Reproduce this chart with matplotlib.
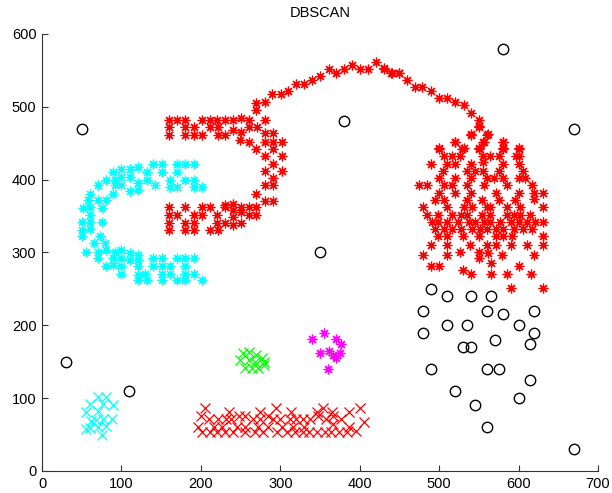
import matplotlib
matplotlib.use("Agg")
import matplotlib.pyplot as plt
import numpy as np

plt.rcParams['font.family'] = ['Liberation Sans', 'DejaVu Sans']

# ---- data ----
noise_x = [580, 50, 380, 670, 350, 30, 110, 490, 510, 540, 565, 480, 560, 580, 620, 510, 535, 600,
           480, 620, 570, 615, 530, 540, 490, 560, 575, 615, 520, 600, 545, 560, 670]
noise_y = [580, 470, 480, 470, 300, 150, 110, 250, 240, 240, 240, 220, 220, 215, 220, 200, 200, 200,
           190, 190, 180, 175, 170, 170, 140, 140, 140, 125, 110, 100, 90, 60, 30]

# cyan asterisk "C"
cyan_s_x = [140, 151, 170, 180, 191, 151, 170, 121, 111, 100, 90, 81, 92, 100, 111, 121, 132, 132, 142,
            161, 180, 191, 161, 170, 191, 201, 92, 100, 111, 121, 90, 71, 60, 58, 71, 81, 52, 60, 75,
            60, 50, 60, 75, 50, 60, 50, 73, 65, 79, 56, 71, 81, 92, 100, 111, 121, 71, 90, 100, 111,
            121, 140, 151, 170, 180, 191, 81, 100, 121, 140, 151, 161, 180, 100, 121, 130, 151, 161,
            180, 191, 121, 132, 151, 170, 180, 201, 90]
cyan_s_y = [421, 421, 421, 421, 421, 411, 411, 418, 414, 414, 411, 400, 400, 404, 404, 396, 411, 400, 393,
            400, 400, 400, 390, 390, 390, 390, 393, 393, 384, 386, 381, 393, 381, 372, 372, 372, 361,
            363, 361, 351, 342, 342, 342, 331, 332, 322, 322, 313, 313, 301, 301, 303, 301, 303, 299,
            297, 292, 292, 292, 290, 290, 292, 292, 292, 292, 292, 281, 281, 281, 281, 281, 281, 281,
            271, 269, 271, 271, 271, 271, 271, 262, 262, 262, 262, 262, 262, 283]

# red asterisk cluster (hook + arc + blob)
red_s_x = [
    # upper bar of hook
    160, 170, 180, 201, 212, 220, 230, 241, 250, 261, 160, 180, 191, 212, 222, 241, 250, 261, 271, 281,
    160, 180, 191, 201, 222, 230, 249, 261, 270, 281, 291, 281, 291, 302, 291, 281, 302, 291, 281, 302,
    291, 281, 291, 270, 281, 291, 270, 270, 281,
    # lower bar of hook
    160, 180, 201, 212, 230, 241, 250, 261, 270, 160, 170, 191, 201, 220, 241, 250, 261, 270,
    160, 180, 191, 220, 230, 241, 250, 160, 180, 191, 212, 222, 241, 230,
    # arc
    290, 301, 310, 320, 330, 340, 350, 361, 370, 380, 390, 400, 411, 421, 431, 441, 449,
    430, 440, 450, 460, 470, 479, 490, 500, 510, 520, 531, 540, 550, 550, 540, 560, 556, 520,
    500, 531, 550, 580, 580, 600,
    # blob
    550, 540, 561, 520, 555, 580, 500, 529, 550, 581, 600,
    506, 516, 526, 555, 564, 575, 597, 601,
    490, 510, 520, 540, 555, 581, 601,
    505, 535, 545, 555, 575, 605,
    500, 520, 540, 560, 569, 581, 600, 608,
    475, 485, 506, 516, 535, 556, 585, 617,
    500, 520, 540, 571, 600, 620, 631,
    495, 506, 535, 554, 575, 596, 620,
    480, 510, 531, 541, 560, 564, 586, 602, 631,
    485, 499, 516, 527, 535, 554, 564, 585, 594, 602, 615,
    491, 499, 510, 524, 537, 545, 556, 564, 577, 590, 600, 610, 621, 631,
    495, 506, 516, 527, 541, 552, 560, 571, 581, 594, 606, 617,
    499, 510, 530, 550, 571, 580, 592, 631,
    490, 510, 539, 560, 571, 590, 610, 631,
    480, 510, 526, 550, 562, 579, 620,
    550, 565, 600,
    490, 500, 530, 540, 565, 585, 616,
    590, 631]
red_s_y = [
    482, 482, 482, 482, 482, 482, 482, 482, 484, 482, 472, 472, 472, 472, 472, 468, 466, 472, 472, 482,
    461, 461, 461, 461, 461, 461, 454, 452, 442, 464, 464, 452, 452, 452, 442, 432, 432, 421, 412, 412,
    402, 393, 393, 381, 371, 371, 496, 505, 507,
    363, 363, 363, 363, 363, 367, 363, 363, 363, 351, 351, 351, 351, 351, 358, 356, 351, 351,
    341, 341, 341, 341, 341, 338, 340, 331, 331, 331, 331, 331, 349, 365,
    518, 518, 522, 532, 532, 537, 543, 552, 547, 552, 557, 552, 552, 562, 552, 547, 547,
    553, 547, 547, 537, 527, 527, 522, 512, 512, 507, 503, 492, 482, 472, 461, 461, 452, 452,
    443, 443, 443, 452, 443, 443,
    473, 463, 463, 452, 452, 452, 442, 442, 442, 442, 442,
    432, 432, 432, 432, 432, 432, 432, 432,
    422, 422, 422, 422, 424, 422, 422,
    412, 412, 412, 412, 412, 412,
    402, 402, 402, 402, 402, 402, 402, 402,
    393, 393, 393, 393, 393, 393, 393, 393,
    382, 382, 382, 382, 382, 382, 382,
    372, 372, 372, 372, 372, 372, 374,
    362, 362, 362, 362, 362, 362, 362, 362, 362,
    352, 352, 352, 352, 352, 352, 352, 352, 352, 352, 352,
    342, 342, 342, 342, 342, 342, 342, 342, 342, 342, 342, 342, 342, 342,
    332, 332, 332, 332, 332, 332, 332, 332, 332, 332, 332, 332,
    322, 322, 322, 322, 322, 322, 322, 322,
    310, 310, 310, 310, 310, 310, 310, 310,
    296, 296, 301, 301, 299, 296, 296,
    292, 286, 281,
    281, 281, 276, 271, 271, 271, 271,
    251, 251]

# magenta asterisks
mag_x = [340, 355, 370, 376, 350, 361, 366, 375, 370, 360]
mag_y = [181, 190, 181, 175, 162, 165, 159, 162, 155, 140]

# green crosses
green_x = [253, 260, 270, 277, 249, 260, 268, 279, 256, 264, 272, 280]
green_y = [162, 164, 159, 155, 152, 152, 150, 150, 141, 141, 141, 146]

# cyan crosses
cyan_x_x = [71, 81, 60, 77, 90, 55, 70, 62, 68, 77, 88, 55, 61, 71, 81, 75]
cyan_x_y = [101, 101, 92, 92, 91, 81, 82, 68, 70, 71, 71, 58, 59, 60, 62, 50]

# red crosses
red_x_x = [205, 236, 275, 295, 314, 346, 354, 365, 386, 400,
           200, 210, 222, 232, 238, 248, 256, 266, 275, 285, 291, 300, 312, 320, 328, 338, 348, 358, 366, 376, 405,
           196, 216, 226, 246, 256, 272, 284, 302, 316, 330, 366, 386,
           202, 212, 220, 230, 240, 256, 268, 278, 296, 308, 318, 328, 336, 346, 356, 364, 374, 384, 395]
red_x_y = [86, 81, 81, 86, 81, 81, 86, 81, 81, 86,
           75, 71, 71, 71, 71, 75, 75, 71, 71, 75, 71, 71, 71, 71, 71, 71, 75, 71, 75, 71, 67,
           61, 61, 61, 61, 61, 61, 61, 61, 61, 61, 64, 61,
           53, 53, 53, 53, 53, 53, 53, 53, 53, 53, 53, 53, 53, 53, 53, 53, 53, 53, 55]

xticks = [0, 100, 200, 300, 400, 500, 600, 700]
yticks = [0, 100, 200, 300, 400, 500, 600]

# ---- plot ----
fig = plt.figure(figsize=(6.12, 4.93), dpi=100)
ax = fig.add_axes([42/612, 22/493, 556/612, 437/493])

ast = (8, 2, 0)
ax.plot(noise_x, noise_y, 'o', mfc='none', mec='black', ms=7.5, mew=1.0, linestyle='none')
ax.plot(cyan_s_x, cyan_s_y, marker=ast, color=(0, 1, 1), ms=7, mew=0.9, linestyle='none')
ax.plot(red_s_x, red_s_y, marker=ast, color=(1, 0, 0), ms=7, mew=0.9, linestyle='none')
ax.plot(mag_x, mag_y, marker=ast, color=(1, 0, 1), ms=7, mew=0.9, linestyle='none')
ax.plot(green_x, green_y, marker='x', color=(0, 1, 0), ms=6.5, mew=0.9, linestyle='none')
ax.plot(cyan_x_x, cyan_x_y, marker='x', color=(0, 1, 1), ms=6.5, mew=0.9, linestyle='none')
ax.plot(red_x_x, red_x_y, marker='x', color=(1, 0, 0), ms=6.5, mew=0.9, linestyle='none')

ax.set_xlim(0, 700)
ax.set_ylim(0, 600)
ax.set_xticks(xticks)
ax.set_yticks(yticks)
ax.tick_params(direction='in', length=4, width=0.8, color='#333333', labelsize=10.5, pad=4)
for s in ['top', 'right']:
    ax.spines[s].set_visible(False)
for s in ['left', 'bottom']:
    ax.spines[s].set_color('#333333')
    ax.spines[s].set_linewidth(0.8)
ax.set_title('DBSCAN', fontsize=10.5, pad=12)

fig.savefig('out.png', dpi=100)
